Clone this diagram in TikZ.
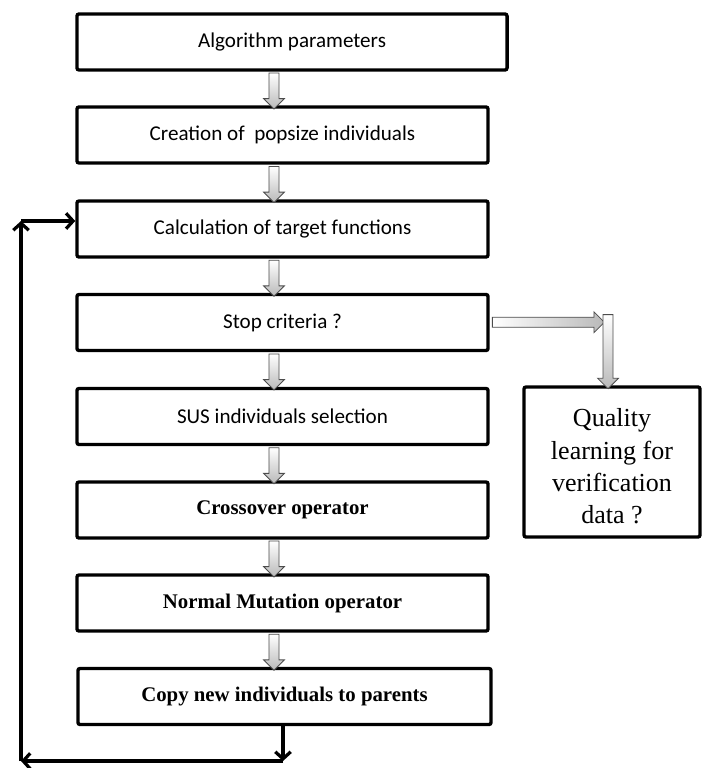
\documentclass[tikz,border=0pt]{standalone}
\usepackage{fontspec}
\setmainfont{Liberation Serif}
\newfontfamily\calibri{Carlito}
\usepackage{tikz}
\usetikzlibrary{shapes,arrows,arrows.meta,positioning,calc}

\begin{document}
\begin{tikzpicture}[
    x=0.025cm, y=-0.025cm,
    box/.style={draw, line width=2.4pt, rounded corners=1.5pt, minimum width=10.275cm, minimum height=1.4cm, align=center, inner sep=0pt},
    sansbox/.style={box, font=\calibri\fontsize{15}{18}\selectfont},
    serifbox/.style={box, font=\bfseries\fontsize{14.8}{18}\selectfont},
    blockarrow/.style={single arrow, draw=gray!60!black, line width=0.6pt, left color=white, right color=gray!55, shading angle=0, minimum height=0.9cm, minimum width=0.52cm, single arrow head extend=0.13cm, inner sep=0.11cm, single arrow head indent=0pt},
    loopline/.style={line width=2.3pt, -{Straight Barb[length=5pt, width=11pt, line width=2.3pt]}},
]
    \useasboundingbox (0,0) rectangle (702,768);

    % Main column of boxes
    \node[sansbox, minimum width=10.75cm] (algo) at (292,42) {Algorithm parameters};
    \node[sansbox] (create) at (282.5,135) {Creation of \ popsize individuals};
    \node[sansbox] (calc) at (282.5,229) {Calculation of target functions};
    \node[sansbox] (stop) at (282.5,322.5) {Stop criteria ?};
    \node[sansbox] (sus) at (282.5,416.5) {SUS individuals selection};
    \node[serifbox] (cross) at (282.5,510) {Crossover operator};
    \node[serifbox] (mut) at (282.5,603) {Normal Mutation operator};
    \node[serifbox, minimum width=10.325cm] (copy) at (284.5,696.5) {Copy new individuals to parents};

    % Side box
    \node[box, minimum width=4.4cm, minimum height=3.75cm, font=\fontsize{18.5}{23}\selectfont] (quality) at (612,462)
        {\\[-4pt]Quality\\learning for\\verification\\data ?};

    % Block arrows between boxes
    \coordinate (col) at (274,0);
    \foreach \a/\b in {algo/create, create/calc, calc/stop, stop/sus, sus/cross, cross/mut, mut/copy}
        \path (\a.south -| col) -- (\b.north -| col) node[blockarrow, midway, rotate=-90] {};

    % Branch to side box
    \coordinate (turn) at (602,322);
    \coordinate (drop) at (608,313);
    \path (stop.east) -- (turn) node[blockarrow, midway, minimum height=2.8cm, shading angle=90] {};
    \path (drop) -- (drop |- quality.north) node[blockarrow, midway, minimum height=1.85cm, rotate=-90] {};

    % Feedback loop
    \coordinate (lowright) at (283,761);
    \coordinate (lowleft) at (21,761);
    \coordinate (upleft) at (21,221);
    \draw[loopline] (copy.south -| lowright) -- (lowright);
    \draw[loopline] (lowright) -- (lowleft);
    \draw[loopline] (lowleft) -- (upleft);
    \draw[loopline] (upleft) -- (upleft -| calc.west);
\end{tikzpicture}
\end{document}
